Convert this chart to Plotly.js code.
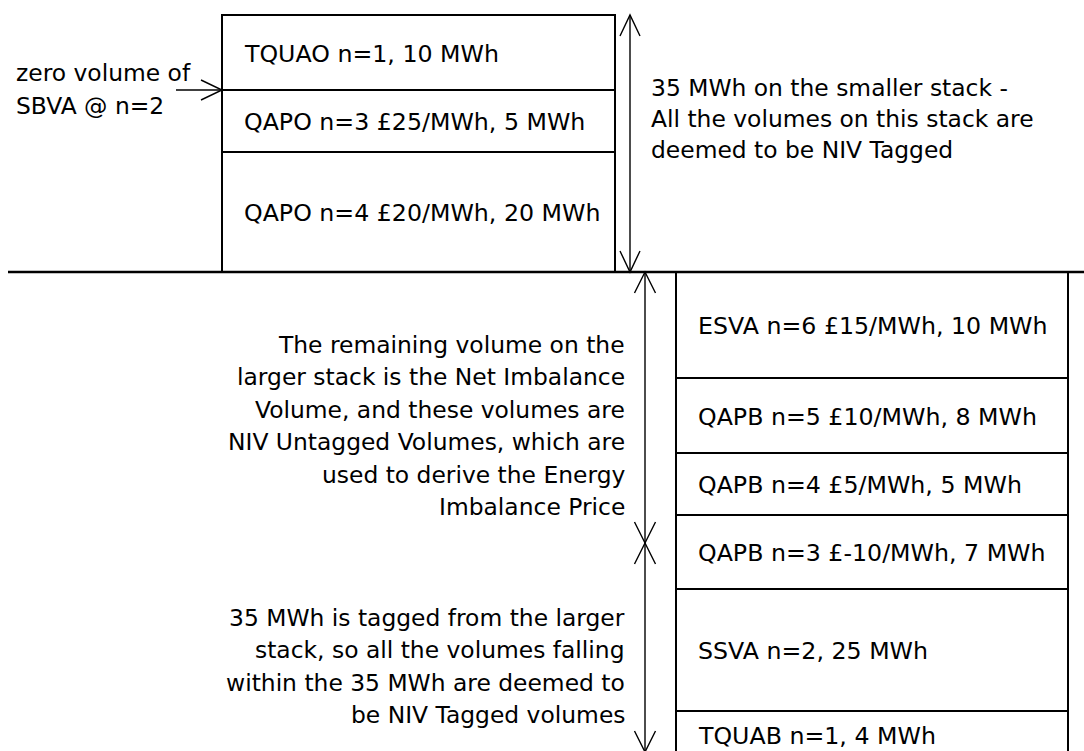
<!DOCTYPE html>
<html><head><meta charset="utf-8">
<script src="https://cdn.plot.ly/plotly-3.0.1.min.js"></script>
<style>html,body{margin:0;padding:0;background:#fff;} #chart{width:1084px;height:751px;}</style>
</head><body><div id="chart"></div>
<script>
// ---- Smaller stack (above the line), listed top to bottom ----
const smallType   = ["TQUAO", "QAPO", "QAPO"];
const smallN      = [1, 3, 4];
const smallPrice  = [null, 25, 20];
const smallVolume = [10, 5, 20];
const smallBlock  = [75, 62, 120];   // schematic block heights as drawn in the picture

// ---- Larger stack (below the line), listed top to bottom ----
const largeType   = ["ESVA", "QAPB", "QAPB", "QAPB", "SSVA", "TQUAB"];
const largeN      = [6, 5, 4, 3, 2, 1];
const largePrice  = [15, 10, 5, -10, null, null];
const largeVolume = [10, 8, 5, 7, 25, 4];
const largeBlock  = [106, 75, 62, 74, 122, 50];

// ---- Notes ----
const noteZero = ["zero volume of", "SBVA @ n=2"];
const noteSmaller = ["35 MWh on the smaller stack -", "All the volumes on this stack are", "deemed to be NIV Tagged"];
const noteUntagged = ["The remaining volume on the", "larger stack is the Net Imbalance", "Volume, and these volumes are", "NIV Untagged Volumes, which are", "used to derive the Energy", "Imbalance Price"];
const noteTagged = ["35 MWh is tagged from the larger", "stack, so all the volumes falling", "within the 35 MWh are deemed to", "be NIV Tagged volumes"];

// ---- layout constants ----
const W = 1084, H = 751;
const baseY = 272;
const smallX0 = 222, smallX1 = 615;
const largeX0 = 676, largeX1 = 1068;
const pad = 20;
const FONT = "DejaVu Sans, Verdana, sans-serif";
const fsBox = 23.7, fsNote = 23.4;

function label(t, n, p, v) {
  return p === null ? `${t} n=${n}, ${v} MWh` : `${t} n=${n} £${p}/MWh, ${v} MWh`;
}

// small stack sits on the line and grows upward
const smallTop = new Array(smallBlock.length);
{ let acc = baseY; for (let i = smallBlock.length - 1; i >= 0; i--) { acc -= smallBlock[i]; smallTop[i] = acc; } }
// large stack hangs from the line downward
const largeTop = [];
{ let acc = baseY; for (let i = 0; i < largeBlock.length; i++) { largeTop.push(acc); acc += largeBlock[i]; } }

const barStyle = { color: "#ffffff", line: { color: "#000000", width: 2 } };
const traces = [
  { type: "bar", x: smallBlock.map(() => (smallX0 + smallX1) / 2), width: smallBlock.map(() => smallX1 - smallX0),
    base: smallTop, y: smallBlock, marker: barStyle, hoverinfo: "skip", showlegend: false },
  { type: "bar", x: largeBlock.map(() => (largeX0 + largeX1) / 2), width: largeBlock.map(() => largeX1 - largeX0),
    base: largeTop, y: largeBlock, marker: barStyle, hoverinfo: "skip", showlegend: false }
];

const annotations = [];
smallType.forEach((t, i) => annotations.push({
  x: smallX0 + pad, y: smallTop[i] + smallBlock[i] / 2 + 1, xref: "x", yref: "y", xanchor: "left", yanchor: "middle",
  text: label(t, smallN[i], smallPrice[i], smallVolume[i]), showarrow: false, font: { family: FONT, size: fsBox, color: "#000" }
}));
largeType.forEach((t, i) => annotations.push({
  x: largeX0 + pad, y: (i === largeType.length - 1 ? largeTop[i] + 25 : largeTop[i] + largeBlock[i] / 2 + 1), xref: "x", yref: "y", xanchor: "left", yanchor: "middle",
  text: label(t, largeN[i], largePrice[i], largeVolume[i]), showarrow: false, font: { family: FONT, size: fsBox, color: "#000" }
}));
// multi-line notes: one annotation per line so the line pitch can follow the picture
function note(lines, x, yMid, pitch, anchor) {
  lines.forEach((s, i) => annotations.push({
    x, y: yMid + (i - (lines.length - 1) / 2) * pitch, xref: "x", yref: "y", xanchor: anchor, yanchor: "middle",
    text: s, showarrow: false, font: { family: FONT, size: fsNote, color: "#000" }
  }));
}
note(noteZero, 14, 89.5, 33, "left");
note(noteSmaller, 649, 119, 31, "left");
note(noteUntagged, 627, 426, 32.4, "right");
note(noteTagged, 627, 666.5, 32.3, "right");

// ---- lines & arrows ----
const shapes = [];
const ln = (x0, y0, x1, y1, w) => shapes.push({ type: "line", xref: "x", yref: "y", x0, y0, x1, y1, line: { color: "#000", width: w } });
const head = (x, y, dx, dy, hl, hw, w) => { // open V head with tip at (x,y), pointing in (dx,dy)
  const bx = x - dx * hl, by = y - dy * hl, px = -dy * hw, py = dx * hw;
  shapes.push({ type: "path", xref: "x", yref: "y", path: `M ${bx + px},${by + py} L ${x},${y} L ${bx - px},${by - py}`,
    fillcolor: "rgba(0,0,0,0)", line: { color: "#000", width: w } });
};
const aw = 1.4;
// baseline
ln(8, baseY, W, baseY, 2.4);
// zero volume arrow
ln(176, 90, smallX0, 90, aw); head(smallX0, 90, 1, 0, 21, 10, aw);
// smaller stack double arrow
const smallTopY = smallTop[0];
ln(630, smallTopY, 630, baseY, aw); head(630, smallTopY, 0, -1, 21, 10, aw); head(630, baseY, 0, 1, 21, 10, aw);
// larger stack arrows
const splitY = 543;
ln(645, baseY, 645, splitY, aw); head(645, baseY, 0, -1, 21, 10.5, aw); head(645, splitY, 0, 1, 21, 10.5, aw);
ln(645, splitY, 645, 752, aw); head(645, splitY, 0, -1, 21, 10.5, aw); head(645, 752, 0, 1, 21, 10.5, aw);

const layout = {
  width: W, height: H, margin: { l: 0, r: 0, t: 0, b: 0 }, paper_bgcolor: "#fff", plot_bgcolor: "#fff",
  barmode: "overlay", showlegend: false,
  xaxis: { range: [0, W], visible: false, fixedrange: true },
  yaxis: { range: [H, 0], visible: false, fixedrange: true },
  annotations, shapes
};
Plotly.newPlot("chart", traces, layout, { displayModeBar: false, staticPlot: true });
</script></body></html>
